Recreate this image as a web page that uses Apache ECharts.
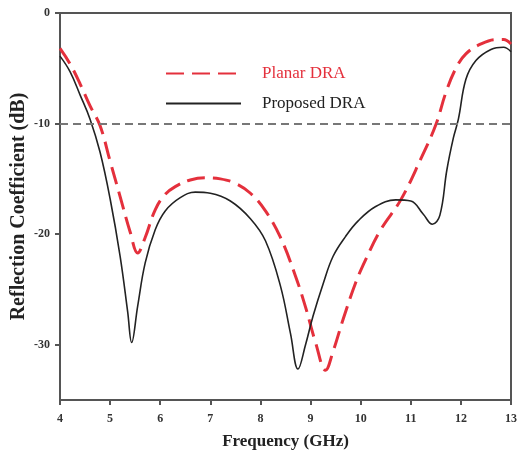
<!DOCTYPE html>
<html>
<head>
<meta charset="utf-8">
<script src="https://cdn.jsdelivr.net/npm/echarts@6/dist/echarts.min.js"></script>
<style>
  html, body { margin: 0; padding: 0; background: #fff; }
  #chartmain { width: 518px; height: 456px; }
</style>
</head>
<body>
<div id="chartmain"></div>
<script>
// frequency (GHz) / reflection coefficient (dB)
var freqPlanar = [4.0, 4.2, 4.4, 4.6, 4.8, 5.0, 5.2, 5.4, 5.55, 5.7, 5.9, 6.1, 6.3, 6.6, 6.9, 7.2, 7.5, 7.8, 8.1, 8.4, 8.7, 8.9, 9.1, 9.3, 9.45, 9.65, 9.9, 10.1, 10.4, 10.8, 11.2, 11.5, 11.7, 11.9, 12.1, 12.4, 12.7, 12.85, 13.0];
var s11Planar = [-3.2, -4.6, -6.4, -8.4, -10.2, -13.4, -16.6, -19.8, -21.7, -20.3, -17.8, -16.4, -15.7, -15.1, -14.9, -15.0, -15.4, -16.3, -17.9, -20.3, -23.8, -26.6, -29.8, -32.3, -30.6, -27.7, -24.4, -22.3, -19.6, -16.9, -13.2, -10.1, -7.2, -5.0, -3.7, -2.8, -2.4, -2.4, -2.8];

var freqProposed = [4.0, 4.2, 4.4, 4.6, 4.8, 5.0, 5.2, 5.35, 5.43, 5.55, 5.7, 5.9, 6.1, 6.4, 6.7, 7.0, 7.4, 7.8, 8.1, 8.4, 8.6, 8.75, 8.9, 9.05, 9.25, 9.45, 9.7, 9.95, 10.3, 10.7, 11.0, 11.25, 11.43, 11.58, 11.72, 11.85, 11.95, 12.1, 12.3, 12.6, 12.85, 13.0];
var s11Proposed = [-3.9, -5.3, -7.4, -9.6, -12.6, -16.8, -22.0, -27.0, -29.8, -26.5, -22.6, -19.6, -17.9, -16.7, -16.2, -16.3, -17.0, -18.6, -20.6, -24.7, -29.0, -32.2, -30.0, -27.4, -24.5, -22.0, -20.2, -18.8, -17.5, -16.9, -17.0, -18.2, -19.1, -18.3, -14.2, -11.3, -9.6, -6.0, -4.3, -3.3, -3.1, -3.5];

var yTicks = [0, -10, -20, -30];
var refLevel = -10;

function pairs(xs, ys) {
    var out = [];
    for (var i = 0; i < xs.length; i++) out.push([xs[i], ys[i]]);
    return out;
}

var myChart = echarts.init(document.getElementById('chartmain'));
var serif = '"Liberation Serif", "DejaVu Serif", serif';

var option = {
    animation: false,
    grid: {
        left: 60, right: 7, top: 13, bottom: 56,
        outerBoundsMode: 'none',
        show: true, borderColor: '#555', borderWidth: 2
    },
    legend: {
        orient: 'vertical',
        left: 160, top: 60,
        itemWidth: 75, itemHeight: 14, itemGap: 13,
        itemStyle: { opacity: 0 },
        textStyle: { fontFamily: serif, fontSize: 17, padding: [0, 0, 0, 16] },
        data: [
            { name: 'Planar DRA', textStyle: { color: '#e4303c' } },
            { name: 'Proposed DRA', textStyle: { color: '#222' } }
        ]
    },
    xAxis: {
        type: 'value',
        min: 4, max: 13, interval: 1,
        name: 'Frequency (GHz)',
        nameLocation: 'middle', nameGap: 33,
        nameMoveOverlap: false,
        nameTextStyle: { fontFamily: serif, fontWeight: 'bold', fontSize: 17, color: '#222' },
        axisLine: { onZero: false, lineStyle: { color: '#555', width: 2 } },
        axisTick: { length: 5, lineStyle: { color: '#555', width: 2 } },
        axisLabel: { margin: 13, fontFamily: serif, fontWeight: 'bold', fontSize: 12, color: '#333' },
        splitLine: { show: false }
    },
    yAxis: {
        type: 'value',
        min: -35, max: 0,
        name: 'Reflection Coefficient (dB)',
        nameLocation: 'middle', nameGap: 31,
        nameMoveOverlap: false,
        nameTextStyle: { fontFamily: serif, fontWeight: 'bold', fontSize: 20, color: '#222' },
        axisLine: { onZero: false, lineStyle: { color: '#555', width: 2 } },
        axisTick: { length: 5, customValues: yTicks, lineStyle: { color: '#555', width: 2 } },
        axisLabel: { margin: 10, customValues: yTicks, fontFamily: serif, fontWeight: 'bold', fontSize: 12, color: '#333' },
        splitLine: { show: false }
    },
    series: [
        {
            name: 'Planar DRA',
            type: 'line',
            data: pairs(freqPlanar, s11Planar),
            smooth: 0.4,
            symbol: 'none',
            z: 3,
            lineStyle: { color: '#e4303c', width: 3, type: [18, 8] },
            itemStyle: { color: '#e4303c' }
        },
        {
            name: 'Proposed DRA',
            type: 'line',
            data: pairs(freqProposed, s11Proposed),
            smooth: 0.4,
            symbol: 'none',
            z: 4,
            lineStyle: { color: '#222', width: 1.6 },
            itemStyle: { color: '#222' },
            markLine: {
                silent: true,
                symbol: 'none',
                label: { show: false },
                lineStyle: { color: '#777', width: 2, type: [8, 5] },
                data: [{ yAxis: refLevel }]
            }
        }
    ]
};

myChart.setOption(option);
</script>
</body>
</html>
